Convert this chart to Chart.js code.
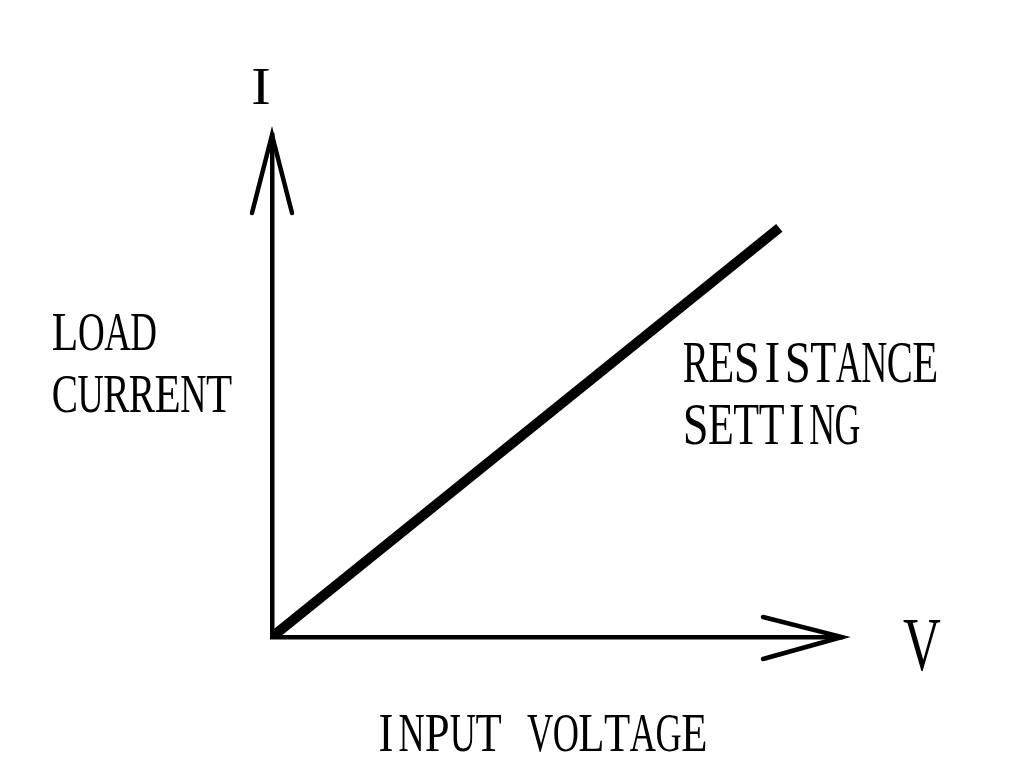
<!DOCTYPE html>
<html>
<head>
<meta charset="utf-8">
<script src="https://cdn.jsdelivr.net/npm/chart.js@4"></script>
<style>
html,body{margin:0;padding:0;background:#fff;}
#wrap{width:1033px;height:768px;}
</style>
</head>
<body>
<div id="wrap"><canvas id="c" width="1033" height="768"></canvas></div>
<script>
// Data
const voltage = [0, 8.9];
const current = [0, 8.15];
const xTitle = 'INPUT VOLTAGE';
const yTitleLines = ['LOAD', 'CURRENT'];
const lineLabelLines = ['RESISTANCE', 'SETTING'];
const xSymbol = 'V';
const ySymbol = 'I';

const FONT = '"Liberation Serif", "Times New Roman", serif';

// draw text in fixed-width cells (like a half-width CJK font)
function drawMono(ctx, text, left, baseline, capH, cell) {
  const size = capH / 0.662;
  ctx.save();
  ctx.font = size + 'px ' + FONT;
  ctx.fillStyle = '#000';
  ctx.textBaseline = 'alphabetic';
  ctx.textAlign = 'center';
  for (let i = 0; i < text.length; i++) {
    const ch = text[i];
    if (ch === ' ') continue;
    const w = ctx.measureText(ch).width;
    const target = Math.min(w * 0.8, cell * 1.02);
    const sx = target / w;
    ctx.save();
    ctx.translate(left + cell * (i + 0.5), baseline);
    ctx.scale(sx, 1);
    ctx.fillText(ch, 0, 0);
    ctx.restore();
  }
  ctx.restore();
}

function drawText(ctx, text, cx, baseline, capH, sx) {
  const size = capH / 0.662;
  ctx.save();
  ctx.font = size + 'px ' + FONT;
  ctx.fillStyle = '#000';
  ctx.textBaseline = 'alphabetic';
  ctx.textAlign = 'center';
  ctx.translate(cx, baseline);
  ctx.scale(sx, 1);
  ctx.fillText(text, 0, 0);
  ctx.restore();
}

const decor = {
  id: 'decor',
  beforeDraw(chart) {
    const ctx = chart.ctx;
    ctx.save();
    ctx.fillStyle = '#fff';
    ctx.fillRect(0, 0, chart.width, chart.height);
    ctx.restore();
  },
  afterDraw(chart) {
    const ctx = chart.ctx;
    const xs = chart.scales.x, ys = chart.scales.y;
    const x0 = xs.getPixelForValue(xs.min), y0 = ys.getPixelForValue(ys.min);
    const xEnd = xs.getPixelForValue(xs.max), yEnd = ys.getPixelForValue(ys.max);
    ctx.save();
    ctx.strokeStyle = '#000';
    ctx.lineWidth = 4.5;
    ctx.lineCap = 'round';
    // y arrow
    ctx.beginPath();
    ctx.moveTo(x0 - 20, yEnd + 78);
    ctx.lineTo(x0, yEnd);
    ctx.lineTo(x0 + 20, yEnd + 78);
    ctx.stroke();
    // x arrow
    ctx.beginPath();
    ctx.moveTo(xEnd - 79, y0 - 20);
    ctx.lineTo(xEnd, y0);
    ctx.lineTo(xEnd - 79, y0 + 22);
    ctx.stroke();
    ctx.restore();

    drawText(ctx, ySymbol, 261, 104, 35, 1.1);
    drawText(ctx, xSymbol, 922, 670, 51, 0.68);
    drawMono(ctx, yTitleLines[0], 52, 350, 36, 26.2);
    drawMono(ctx, yTitleLines[1], 52, 412, 37, 25.7);
    drawMono(ctx, lineLabelLines[0], 683, 382, 39, 25.5);
    drawMono(ctx, lineLabelLines[1], 683, 444, 39, 25.3);
    drawMono(ctx, xTitle, 373, 751, 37, 25.7);
  }
};

new Chart(document.getElementById('c'), {
  type: 'line',
  data: {
    datasets: [{
      data: voltage.map((v, i) => ({x: v, y: current[i]})),
      borderColor: '#000',
      borderWidth: 10,
      borderCapStyle: 'butt',
      pointRadius: 0,
      fill: false,
      tension: 0
    }]
  },
  options: {
    responsive: false,
    animation: false,
    events: [],
    layout: {padding: {left: 272, right: 191, top: 135, bottom: 131}},
    plugins: {legend: {display: false}, tooltip: {enabled: false}, title: {display: false}},
    scales: {
      x: {
        type: 'linear', min: 0, max: 10,
        grid: {display: false, drawTicks: false},
        border: {display: true, color: '#000', width: 4.5},
        ticks: {display: false}
      },
      y: {
        type: 'linear', min: 0, max: 10,
        grid: {display: false, drawTicks: false},
        border: {display: true, color: '#000', width: 4.5},
        ticks: {display: false}
      }
    }
  },
  plugins: [decor]
});
</script>
</body>
</html>
